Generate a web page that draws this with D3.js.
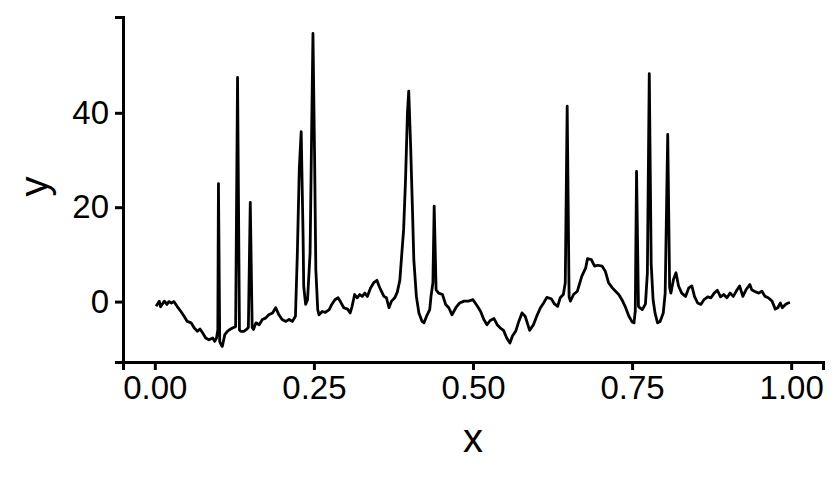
<!DOCTYPE html>
<html>
<head>
<meta charset="utf-8">
<script src="https://cdn.jsdelivr.net/npm/d3@7"></script>
<style>
  body { margin: 0; background: #fff; }
  text { font-family: "Liberation Sans", Arial, sans-serif; fill: #000; }
</style>
</head>
<body>
<div class="content"></div>
<script>
// values
var xs = [0.002,0.007,0.009,0.015,0.019,0.022,0.026,0.030,0.035,0.041,0.046,0.051,0.057,0.062,0.067,0.071,0.075,0.080,0.085,0.091,
  0.094,0.097,0.099,0.100,0.102,0.104,0.106,0.110,0.114,0.118,0.122,0.127,0.130,0.133,0.135,0.140,0.144,0.147,0.150,0.153,
  0.155,0.159,0.164,0.169,0.174,0.179,0.185,0.190,0.195,0.200,0.206,0.211,0.216,0.221,0.224,0.227,0.230,0.233,0.234,0.237,
  0.240,0.244,0.246,0.2485,0.251,0.253,0.256,0.258,0.263,0.268,0.274,0.278,0.283,0.288,0.292,0.297,0.303,0.307,0.310,0.314,
  0.318,0.322,0.326,0.330,0.334,0.339,0.344,0.349,0.352,0.356,0.360,0.364,0.368,0.372,0.377,0.381,0.385,0.391,0.394,0.397,
  0.399,0.402,0.405,0.407,0.411,0.415,0.420,0.423,0.428,0.432,0.434,0.437,0.439,0.442,0.446,0.452,0.457,0.462,0.467,0.473,
  0.479,0.486,0.493,0.500,0.507,0.512,0.517,0.522,0.527,0.533,0.538,0.543,0.548,0.553,0.558,0.562,0.567,0.572,0.577,0.582,
  0.589,0.595,0.601,0.606,0.611,0.616,0.623,0.628,0.633,0.637,0.642,0.645,0.648,0.651,0.653,0.658,0.664,0.668,0.671,0.677,
  0.680,0.686,0.691,0.696,0.703,0.708,0.713,0.719,0.724,0.729,0.734,0.739,0.745,0.750,0.753,0.755,0.757,0.760,0.762,0.766,
  0.769,0.771,0.774,0.777,0.780,0.783,0.786,0.790,0.794,0.799,0.802,0.806,0.809,0.811,0.815,0.819,0.823,0.828,0.834,0.839,
  0.844,0.848,0.853,0.858,0.863,0.869,0.874,0.879,0.884,0.889,0.894,0.899,0.904,0.909,0.915,0.919,0.924,0.929,0.935,0.938,
  0.942,0.949,0.954,0.959,0.964,0.970,0.975,0.979,0.983,0.986,0.991,0.995,0.998];
var ys = [-1.0,0.1,-1.1,0.1,-0.6,0.0,-0.3,0.0,-1.0,-2.1,-3.1,-4.2,-4.5,-5.6,-6.3,-5.8,-6.6,-7.7,-8.1,-7.7,
  -8.4,-7.7,-6.0,25.0,-8.5,-9.1,-9.5,-7.0,-6.3,-5.9,-5.6,-5.3,47.5,-6.0,-6.3,-6.3,-5.9,-5.5,21.0,-5.5,
  -5.9,-4.5,-4.9,-3.8,-3.5,-2.8,-2.4,-1.3,-2.8,-3.8,-4.2,-3.8,-4.2,-3.1,10.3,28.0,36.0,13.8,3.2,-0.6,
  0.4,10.3,31.5,56.8,31.5,6.8,-1.7,-2.8,-2.1,-2.3,-1.7,-0.6,0.4,0.8,-0.1,-1.3,-1.6,-2.4,-1.0,1.5,
  0.8,1.5,1.1,1.8,1.1,2.9,4.0,4.5,3.4,2.2,1.1,0.8,-1.3,0.1,0.8,2.0,4.5,15.3,25.9,40.0,
  44.6,32.9,18.9,8.9,1.1,-2.4,-4.2,-4.5,-2.8,-1.7,1.1,4.0,20.2,2.5,1.8,1.5,-0.6,-1.3,-2.8,-1.3,
  -0.3,0.1,0.1,0.4,-1.0,-2.1,-3.8,-4.9,-4.0,-3.6,-4.9,-5.6,-6.1,-7.7,-8.8,-7.3,-6.3,-4.2,-2.4,-3.1,
  -6.1,-4.9,-2.8,-1.3,-0.3,0.9,0.6,-0.5,-1.0,0.8,1.5,4.0,41.4,1.0,0.1,1.5,2.2,4.0,5.4,7.1,
  9.1,8.9,7.5,7.7,7.5,6.4,4.0,2.9,2.2,1.5,0.4,-1.0,-3.1,-4.3,-4.5,-2.0,27.6,-1.0,-1.3,-1.7,
  -1.0,-0.5,6.0,48.3,8.0,0.4,-2.4,-4.5,-4.2,-2.4,1.8,35.4,3.0,1.8,4.7,6.1,3.3,1.8,1.1,2.9,
  3.3,1.1,-0.3,-0.6,0.4,1.0,0.8,1.8,2.4,1.0,1.5,0.8,1.8,1.1,2.5,3.3,1.1,2.5,3.6,2.5,
  2.2,1.8,2.2,1.1,0.8,0.1,-1.6,-1.3,-0.3,-1.3,-0.6,-0.3,-0.2];
var xTicks = [0, 0.25, 0.5, 0.75, 1];
var xTickLabels = ["0.00", "0.25", "0.50", "0.75", "1.00"];
var yTicks = [0, 20, 40];
var yTickLabels = ["0", "20", "40"];
var xDomain = [-0.05, 1.05];
var yDomain = [-12.8, 60.3];

var data = xs.map(function(d, i) { return {x: d, y: ys[i]}; });

// set the dimensions and margins of the graph
var margin = {top: 17, right: 17, bottom: 118, left: 123},
    width = 840 - margin.left - margin.right,
    height = 480 - margin.top - margin.bottom;

var svg = d3.select(".content")
    .append("svg")
    .attr("width", 840)
    .attr("height", 480)
    .append("g")
    .attr("transform", "translate(" + margin.left + "," + margin.top + ")");

var x = d3.scaleLinear().domain(xDomain).range([0, width]);
var y = d3.scaleLinear().domain(yDomain).range([height, 0]);

// X axis
var gx = svg.append("g")
    .attr("transform", "translate(0," + height + ")")
    .call(d3.axisBottom(x)
        .tickValues(xTicks)
        .tickFormat(function(d, i) { return xTickLabels[i]; })
        .tickSizeOuter(0)
        .tickSize(8)
        .tickPadding(6));

// Y axis
var gy = svg.append("g")
    .call(d3.axisLeft(y)
        .tickValues(yTicks)
        .tickFormat(function(d, i) { return yTickLabels[i]; })
        .tickSizeOuter(0)
        .tickSize(8)
        .tickPadding(6));

[gx, gy].forEach(function(g) {
    g.select(".domain").attr("stroke", "#000").attr("stroke-width", 3);
    g.selectAll(".tick line").attr("stroke", "#000").attr("stroke-width", 3);
    g.selectAll(".tick text").style("font-size", "33px").attr("fill", "#000");
});

// the line
svg.append("path")
    .datum(data)
    .attr("fill", "none")
    .attr("stroke", "#000")
    .attr("stroke-width", 2.8)
    .attr("stroke-linejoin", "round")
    .attr("d", d3.line()
        .x(function(d) { return x(d.x); })
        .y(function(d) { return y(d.y); }));

// axis titles
svg.append("text")
    .attr("x", x(0.5))
    .attr("y", height + 90)
    .attr("text-anchor", "middle")
    .style("font-size", "40px")
    .text("x");

svg.append("text")
    .attr("transform", "translate(" + (-75) + "," + (height / 2 - 3) + ") rotate(-90)")
    .attr("text-anchor", "middle")
    .style("font-size", "40px")
    .text("y");
</script>
</body>
</html>
